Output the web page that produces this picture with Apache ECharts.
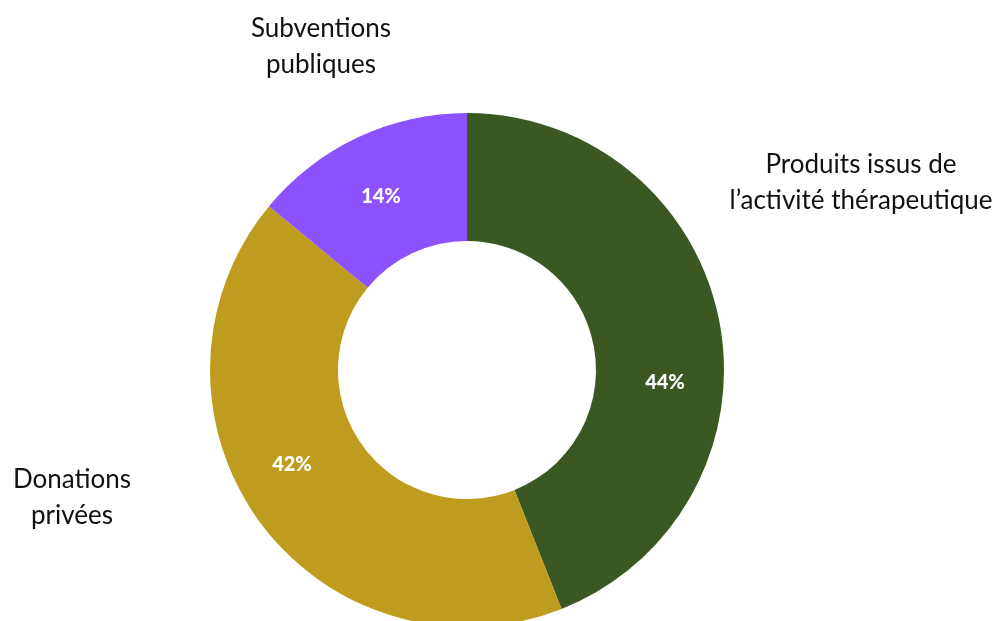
<!DOCTYPE html>
<html>
<head>
<meta charset="utf-8">
<script src="https://cdn.jsdelivr.net/npm/echarts@6/dist/echarts.min.js"></script>
<style>
html,body{margin:0;padding:0;background:#fff;}
#c{width:1002px;height:621px;}
</style>
</head>
<body>
<div id="c"></div>
<script>
const categories = ["Produits issus de\nl\u2019activit\u00e9 th\u00e9rapeutique", "Donations\npriv\u00e9es", "Subventions\npubliques"];
const values = [44, 42, 14];
const colors = ["#3b5823", "#bd9c1e", "#8c52ff"];
const nameLabelPos = [[861, 183], [72, 498], [321, 47]];
const pctLabelPos = [[665, 383], [292, 465], [381, 197]];

const chart = echarts.init(document.getElementById('c'));
const center = [467, 370];
const radius = [129, 257];
chart.setOption({
  animation: false,
  series: [
    {
      type: 'pie',
      center: center,
      radius: radius,
      startAngle: 90,
      clockwise: true,
      silent: true,
      data: values.map((v, i) => ({ value: v, name: categories[i], itemStyle: { color: colors[i] } })),
      label: {
        show: true,
        position: 'inside',
        formatter: p => p.value + '%',
        color: '#fff',
        fontFamily: 'Lato',
        fontWeight: 900,
        fontSize: 20
      },
      labelLine: { show: false },
      labelLayout: p => ({ x: pctLabelPos[p.dataIndex][0], y: pctLabelPos[p.dataIndex][1], align: 'center', verticalAlign: 'middle' })
    },
    {
      type: 'pie',
      center: center,
      radius: radius,
      startAngle: 90,
      clockwise: true,
      silent: true,
      data: values.map((v, i) => ({ value: v, name: categories[i], itemStyle: { color: 'rgba(0,0,0,0)' } })),
      label: {
        show: true,
        position: 'outside',
        formatter: p => p.name,
        color: '#111',
        fontFamily: 'Lato',
        fontSize: 26,
        lineHeight: 36,
        align: 'center',
        overflow: 'none',
        width: 400
      },
      labelLine: { show: false },
      labelLayout: p => ({ x: nameLabelPos[p.dataIndex][0], y: nameLabelPos[p.dataIndex][1], align: 'center', verticalAlign: 'middle' })
    }
  ]
});
</script>
</body>
</html>
